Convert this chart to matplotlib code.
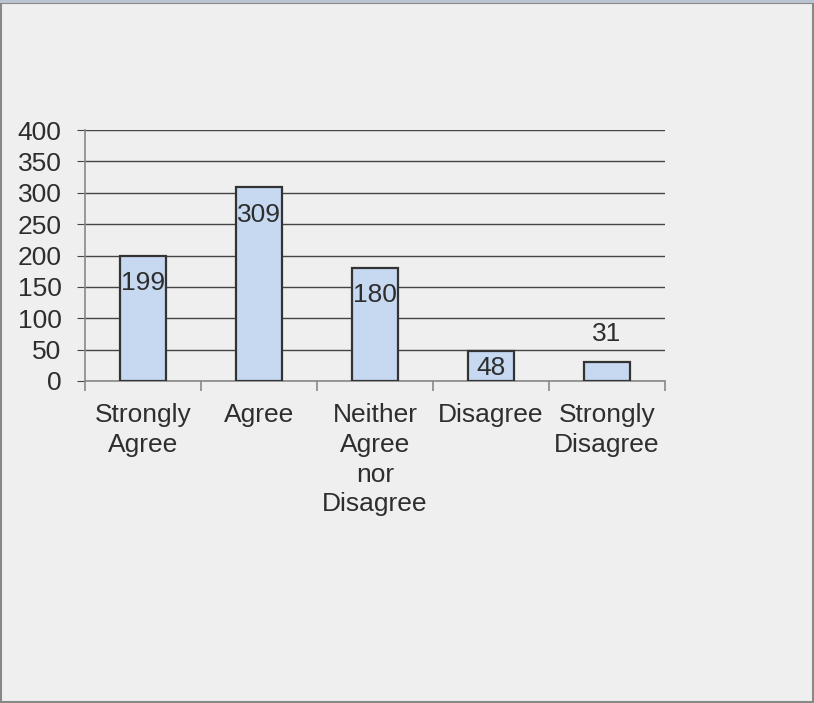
import matplotlib.pyplot as plt
from matplotlib.patches import Rectangle

categories = ['Strongly\nAgree', 'Agree', 'Neither\nAgree\nnor\nDisagree', 'Disagree', 'Strongly\nDisagree']
counts = [199, 309, 180, 48, 31]
# label offset from bar top, pixels (Excel placed these oddly)
label_dy = [-27, -28, -27, -17, 28]

plt.rcParams['font.family'] = ['Liberation Sans', 'DejaVu Sans']
txt = '#2e2e2e'

fig = plt.figure(figsize=(8.14, 7.03), dpi=100, facecolor='#efefef')
ax = fig.add_axes([85/814, 1-381/703, 580/814, 251/703])
ax.set_facecolor('#efefef')

x = list(range(len(counts)))
ax.bar(x, counts, width=0.4, color='#c6d9f1', edgecolor='#333333', linewidth=1.6, zorder=3)

for xi, v, dy in zip(x, counts, label_dy):
    ax.annotate(str(v), (xi, v), xytext=(0, dy), textcoords='offset pixels',
                ha='center', va='center', fontsize=19, color=txt, zorder=4)

ax.set_xlim(-0.5, len(counts)-0.5)
ax.set_ylim(0, 400)
ax.set_yticks(range(0, 401, 50))
ax.yaxis.grid(True, color='#444444', linewidth=1)
ax.set_axisbelow(True)
ax.tick_params(axis='y', length=6, color='#444444', labelsize=19, labelcolor=txt, pad=11)

ax.set_xticks(x)
ax.set_xticklabels(categories, fontsize=19, color=txt, linespacing=1.3, va='top')
ax.tick_params(axis='x', which='major', length=0, pad=16)
ax.set_xticks([i - 0.5 for i in range(len(counts)+1)], minor=True)
ax.tick_params(axis='x', which='minor', length=7, color='#888888', width=1.2)

for s in ['top', 'right']:
    ax.spines[s].set_visible(False)
ax.spines['left'].set_color('#888888')
ax.spines['bottom'].set_color('#888888')
ax.spines['left'].set_linewidth(1.2)
ax.spines['bottom'].set_linewidth(1.2)

# outer frame like the pasted chart box
fig.patches.append(Rectangle((0.0008, 0.002), 0.9976, 0.994, transform=fig.transFigure,
                             fill=False, edgecolor='#888888', linewidth=1.5))
fig.patches.append(Rectangle((0, 1-3/703), 1, 3/703, transform=fig.transFigure,
                             facecolor='#b9c3d1', edgecolor='none'))

fig.savefig('out.png', dpi=100, facecolor=fig.get_facecolor())
